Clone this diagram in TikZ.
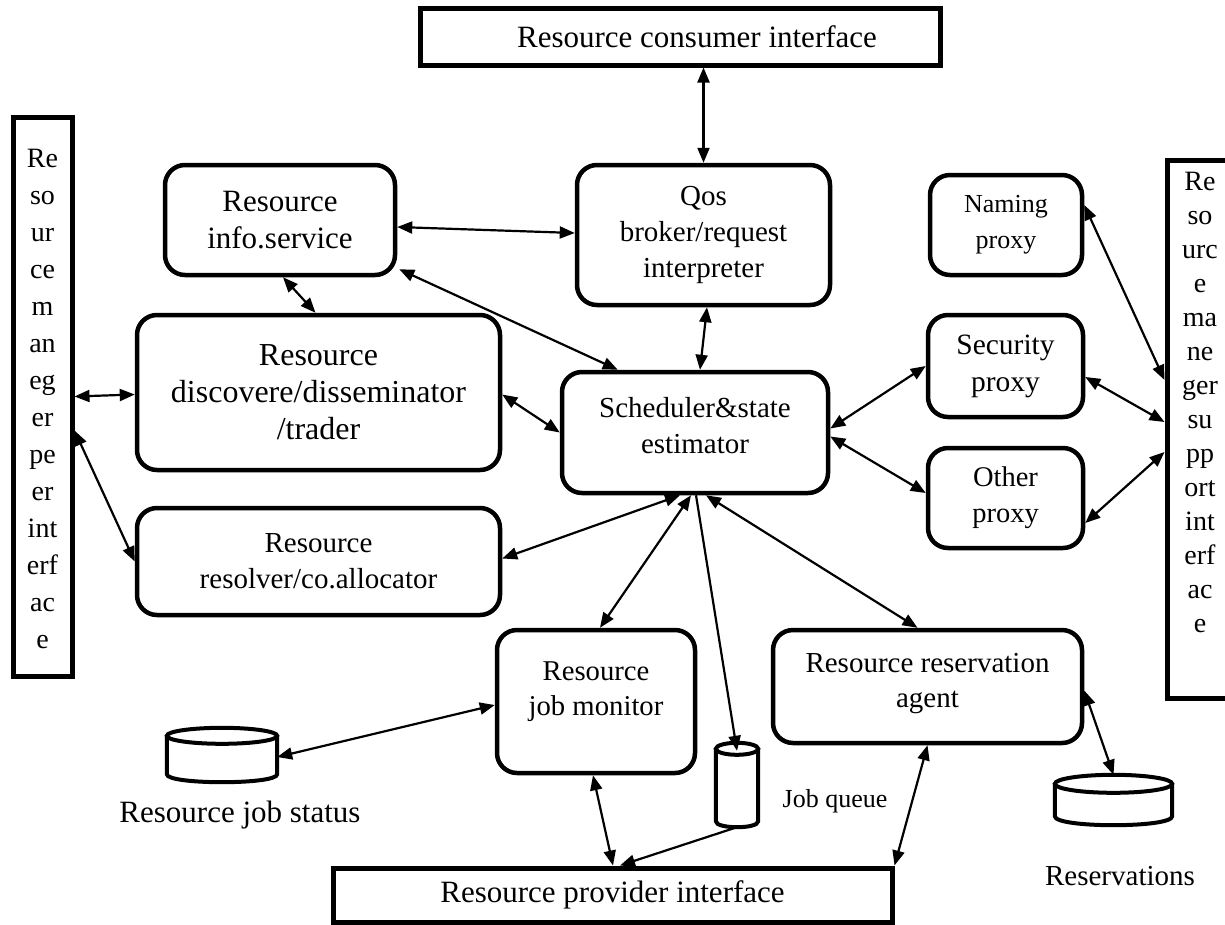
\documentclass[tikz,border=0pt]{standalone}
\usepackage{fontspec}
\setmainfont{Liberation Serif}
\usetikzlibrary{arrows.meta,calc}
\newcommand\fsz[2]{\fontsize{#1}{#2}\selectfont}
\newcommand\drawcyl[2]{%
  \draw[cylline] let \p1=(#1.north west), \p2=(#1.south east) in
    ({(\x1+\x2)/2},{\y1-#2}) ellipse [x radius={(\x2-\x1)/2}, y radius=#2]
    (\x1,{\y1-#2}) -- (\x1,{\y2+#2})
    .. controls (\x1,{\y2+#2-1.333*#2}) and (\x2,{\y2+#2-1.333*#2}) .. (\x2,{\y2+#2})
    -- (\x2,{\y1-#2});
}
\begin{document}
\begin{tikzpicture}[x=1pt,y=-1pt,
  rbox/.style={draw, line width=4.5pt, rounded corners=20pt, inner sep=0pt, align=center},
  sbox/.style={draw, line width=5pt, inner sep=0pt, align=center},
  con/.style={line width=2.2pt, {Triangle[length=15pt,width=12pt]}-{Triangle[length=15pt,width=12pt]}},
  conone/.style={line width=2.2pt, -{Triangle[length=15pt,width=12pt]}},
  cylbox/.style={inner sep=0pt},
  cylline/.style={line width=4pt},
  txt/.style={inner sep=0pt, align=center}]
\useasboundingbox (0,0) rectangle (1225,924);
\fill[white] (0,0) rectangle (1225,924);
\clip (0,0) rectangle (1225,924);

% interfaces
\node[sbox, minimum width=520pt, minimum height=57pt,
  label={[txt, xshift=17pt, font=\fsz{31}{36}]center:{Resource consumer interface}}] (consumer) at (680,36.5) {};
\node[sbox, minimum width=559pt, minimum height=54pt, font=\fsz{31}{36}] (provider) at (612.5,895) {Resource provider interface};
\node[sbox, minimum width=59pt, minimum height=559pt,
  label={[txt, yshift=-2pt, font=\fsz{28}{37}]center:{Re\\so\\ur\\ce\\m\\an\\eg\\er\\pe\\er\\int\\erf\\ac\\e}}] (leftbox) at (42.5,396.5) {};
\node[sbox, minimum width=66pt, minimum height=538pt,
  label={[txt, yshift=27pt, font=\fsz{28}{34}]center:{Re\\so\\urc\\e\\ma\\ne\\ger\\su\\pp\\ort\\int\\erf\\ac\\e}}] (rightbox) at (1200,429) {};

% main boxes
\node[rbox, minimum width=230pt, minimum height=110pt, font=\fsz{31}{37}] (info) at (280,220) {Resource\\info.service};
\node[rbox, minimum width=253pt, minimum height=140pt, font=\fsz{29}{36}] (qos) at (703.5,235) {Qos\\broker/request\\interpreter};
\node[rbox, minimum width=152pt, minimum height=100pt, font=\fsz{26}{36}] (naming) at (1006,225) {Naming\\proxy};
\node[rbox, minimum width=363pt, minimum height=155pt, font=\fsz{32}{37}] (disc) at (318.5,392.5) {Resource\\discovere/disseminator\\/trader};
\node[rbox, minimum width=266pt, minimum height=121pt,
  label={[txt, yshift=7pt, font=\fsz{29}{36}]center:{Scheduler\&state\\estimator}}] (sched) at (695,432.5) {};
\node[rbox, minimum width=155pt, minimum height=102pt, font=\fsz{29.5}{37}] (security) at (1005.5,366) {Security\\proxy};
\node[rbox, minimum width=155pt, minimum height=100pt, font=\fsz{28.5}{36}] (other) at (1005.5,498) {Other\\proxy};
\node[rbox, minimum width=363pt, minimum height=107pt, font=\fsz{29}{36}] (resolver) at (318.5,561.5) {Resource\\resolver/co.allocator};
\node[rbox, minimum width=198pt, minimum height=143pt,
  label={[txt, yshift=10pt, font=\fsz{28.7}{35}]center:{Resource\\job monitor}}] (jobmon) at (596,701.5) {};
\node[rbox, minimum width=309pt, minimum height=113pt,
  label={[txt, yshift=3pt, font=\fsz{29}{35}]center:{Resource reservation\\agent}}] (resagent) at (927.5,686.5) {};

% stores
\node[cylbox, minimum width=110pt, minimum height=54pt] (jobstatus) at (222,755) {};
\node[cylbox, minimum width=42pt, minimum height=84pt] (queue) at (737,785) {};
\node[cylbox, minimum width=117pt, minimum height=50pt] (reserv) at (1113.5,800) {};
\drawcyl{jobstatus}{8pt}
\drawcyl{queue}{6pt}
\drawcyl{reserv}{9pt}
\node[txt, font=\fsz{31}{36}] (jobstatuslbl) at (240,815) {Resource job status};
\node[txt, font=\fsz{26}{30}] (queuelbl) at (835,801) {Job queue};
\node[txt, font=\fsz{29}{34}] (reservlbl) at (1120,876) {Reservations};

% connectors
\draw[con] (consumer.south -| qos.north) -- (qos.north);
\draw[con] ($(info.east)+(0,7)$) -- ($(qos.west)+(0,-2)$);
\draw[con] ($(info.south)+(3,0)$) -- ($(disc.north)+(-3,0)$);
\draw[con] ($(info.south east)+(2,-8)$) -- ($(sched.north west)+(58,0)$);
\draw[con] ($(qos.south)+(3.5,0)$) -- ($(sched.north)+(5,0)$);
\draw[con] (leftbox.east) -- ($(disc.west)+(0,2)$);
\draw[con] ($(leftbox.east)+(0,34)$) -- (resolver.west);
\draw[con] ($(disc.east)+(0,2)$) -- (sched.west);
\draw[con] ($(resolver.east)+(0,-3)$) -- ($(sched.south)+(-15,0)$);
\draw[con] ($(sched.south)+(-4,0)$) -- ($(jobmon.north)+(4,0)$);
\draw[conone] ($(sched.south)+(1,0)$) -- ($(queue.north)+(0,8)$);
\draw[con] ($(sched.south)+(11,0)$) -- ($(resagent.north)+(-10,0)$);
\draw[con] ($(sched.east)+(0,-4)$) -- (security.west);
\draw[con] ($(sched.east)+(0,4)$) -- ($(other.west)+(0,-5)$);
\draw[con] ($(naming.east)+(0,-20)$) -- ($(rightbox.west)+(0,-49)$);
\draw[con] ($(security.east)+(0,11)$) -- ($(rightbox.west)+(0,-7)$);
\draw[con] ($(other.east)+(0,25)$) -- ($(rightbox.west)+(0,23)$);
\draw[con] ($(jobmon.west)+(0,3.5)$) -- ($(jobstatus.east)+(0,2)$);
\draw[con] ($(jobmon.south)+(-3,0)$) -- ($(provider.north)+(0.5,0)$);
\draw[conone] (queue.south) -- ($(provider.north)+(7.5,0)$);
\draw[con] (resagent.south) -- (provider.north east);
\draw[con] ($(resagent.east)+(0,4)$) -- (reserv.north);
\end{tikzpicture}
\end{document}
